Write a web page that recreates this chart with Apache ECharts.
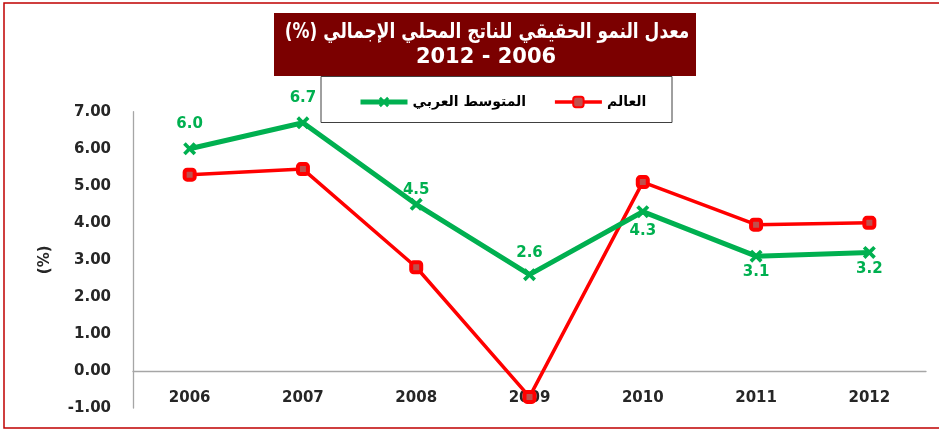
<!DOCTYPE html>
<html><head><meta charset="utf-8">
<script src="https://cdn.jsdelivr.net/npm/echarts@6/dist/echarts.min.js"></script>
<style>html,body{margin:0;padding:0;background:#fff}#c{width:939px;height:430px}</style>
</head><body><div id="c"></div>
<script>
const categories = ['2006','2007','2008','2009','2010','2011','2012'];
const arabAvg = [6.0, 6.7, 4.5, 2.6, 4.3, 3.1, 3.2];
const world = [5.3, 5.45, 2.8, -0.7, 5.1, 3.95, 4.0];
const yTicks = [-1, 0, 1, 2, 3, 4, 5, 6, 7];
const seriesNames = ['المتوسط العربي', 'العالم'];
const titleLine1 = 'معدل النمو الحقيقي للناتج المحلي الإجمالي (%)\u200F';
const titleLine2 = '2012 - 2006';
const labelOffsetY = [-25, -25, -14, -22, 19, 16, 17];

const FONT = '"DejaVu Sans", sans-serif';
const green = '#00B050', red = '#FF0000';
const xPath = 'path://M0,2 L2,0 L5,3 L8,0 L10,2 L7,5 L10,8 L8,10 L5,7 L2,10 L0,8 L3,5 Z';

const chart = echarts.init(document.getElementById('c'), null, {renderer:'canvas'});
chart.setOption({
  animation: false,
  grid: {left:133, right:13, top:111.7, bottom:22, containLabel:false, outerBoundsMode:'none'},
  xAxis: {
    type:'category', data: categories, boundaryGap:true,
    axisLine:{onZero:true, lineStyle:{color:'#A6A6A6', width:1.3}},
    axisTick:{show:false},
    axisLabel:{margin:-17, color:'#262626', fontFamily:FONT, fontWeight:'bold', fontSize:15}
  },
  yAxis: {
    type:'value', min:yTicks[0], max:yTicks[yTicks.length-1], interval:1,
    name:'(%)', nameLocation:'middle', nameRotate:90, nameGap:80,
    nameTextStyle:{fontFamily:FONT, fontWeight:'bold', fontSize:15, color:'#262626'},
    axisLine:{show:true, lineStyle:{color:'#A6A6A6', width:1.3}},
    axisTick:{show:false},
    splitLine:{show:false},
    axisLabel:{margin:22, color:'#262626', fontFamily:FONT, fontWeight:'bold', fontSize:15,
      formatter: v => v.toFixed(2)}
  },
  legend: {
    left:358, top:95, padding:0, itemGap:27, itemWidth:47, itemHeight:13,
    data: [
      {name: seriesNames[0], lineStyle:{width:5, color:green}},
      {name: seriesNames[1], lineStyle:{width:3.5, color:red}}
    ],
    textStyle:{fontFamily:FONT, fontWeight:'bold', fontSize:14, color:'#000'}
  },
  graphic: [
    {type:'rect', shape:{x:4, y:3, width:940, height:425}, style:{fill:'none', stroke:'#C00000', lineWidth:1.5}, z:-10},
    {type:'rect', shape:{x:274, y:13, width:422, height:63}, style:{fill:'#7B0000'}, z:-5},
    {type:'text', x:487, y:33, scaleX:0.81, style:{text:titleLine1, fill:'#fff', font:'bold 21px '+FONT, textAlign:'center', textVerticalAlign:'middle'}, z:-4},
    {type:'text', x:486, y:58, style:{text:titleLine2, fill:'#fff', font:'bold 21px '+FONT, textAlign:'center', textVerticalAlign:'middle'}, z:-4},
    {type:'rect', shape:{x:321, y:76.5, width:351, height:46}, style:{fill:'#fff', stroke:'#404040', lineWidth:1}, z:-5}
  ],
  series: [
    {
      name: seriesNames[0], type:'line', data: arabAvg.map((v,i)=>({value:v, label:{offset:[0,labelOffsetY[i]]}})),
      symbol: xPath, symbolSize:13,
      lineStyle:{color:green, width:5}, itemStyle:{color:green},
      label:{show:true, position:'inside', formatter: p => p.value.toFixed(1),
        color:green, fontFamily:FONT, fontWeight:'bold', fontSize:15},
      z:3
    },
    {
      name: seriesNames[1], type:'line', data: world,
      symbol:'roundRect', symbolSize:10,
      lineStyle:{color:red, width:3.5},
      itemStyle:{color:'#C0504D', borderColor:red, borderWidth:4},
      z:2
    }
  ]
});
</script></body></html>
